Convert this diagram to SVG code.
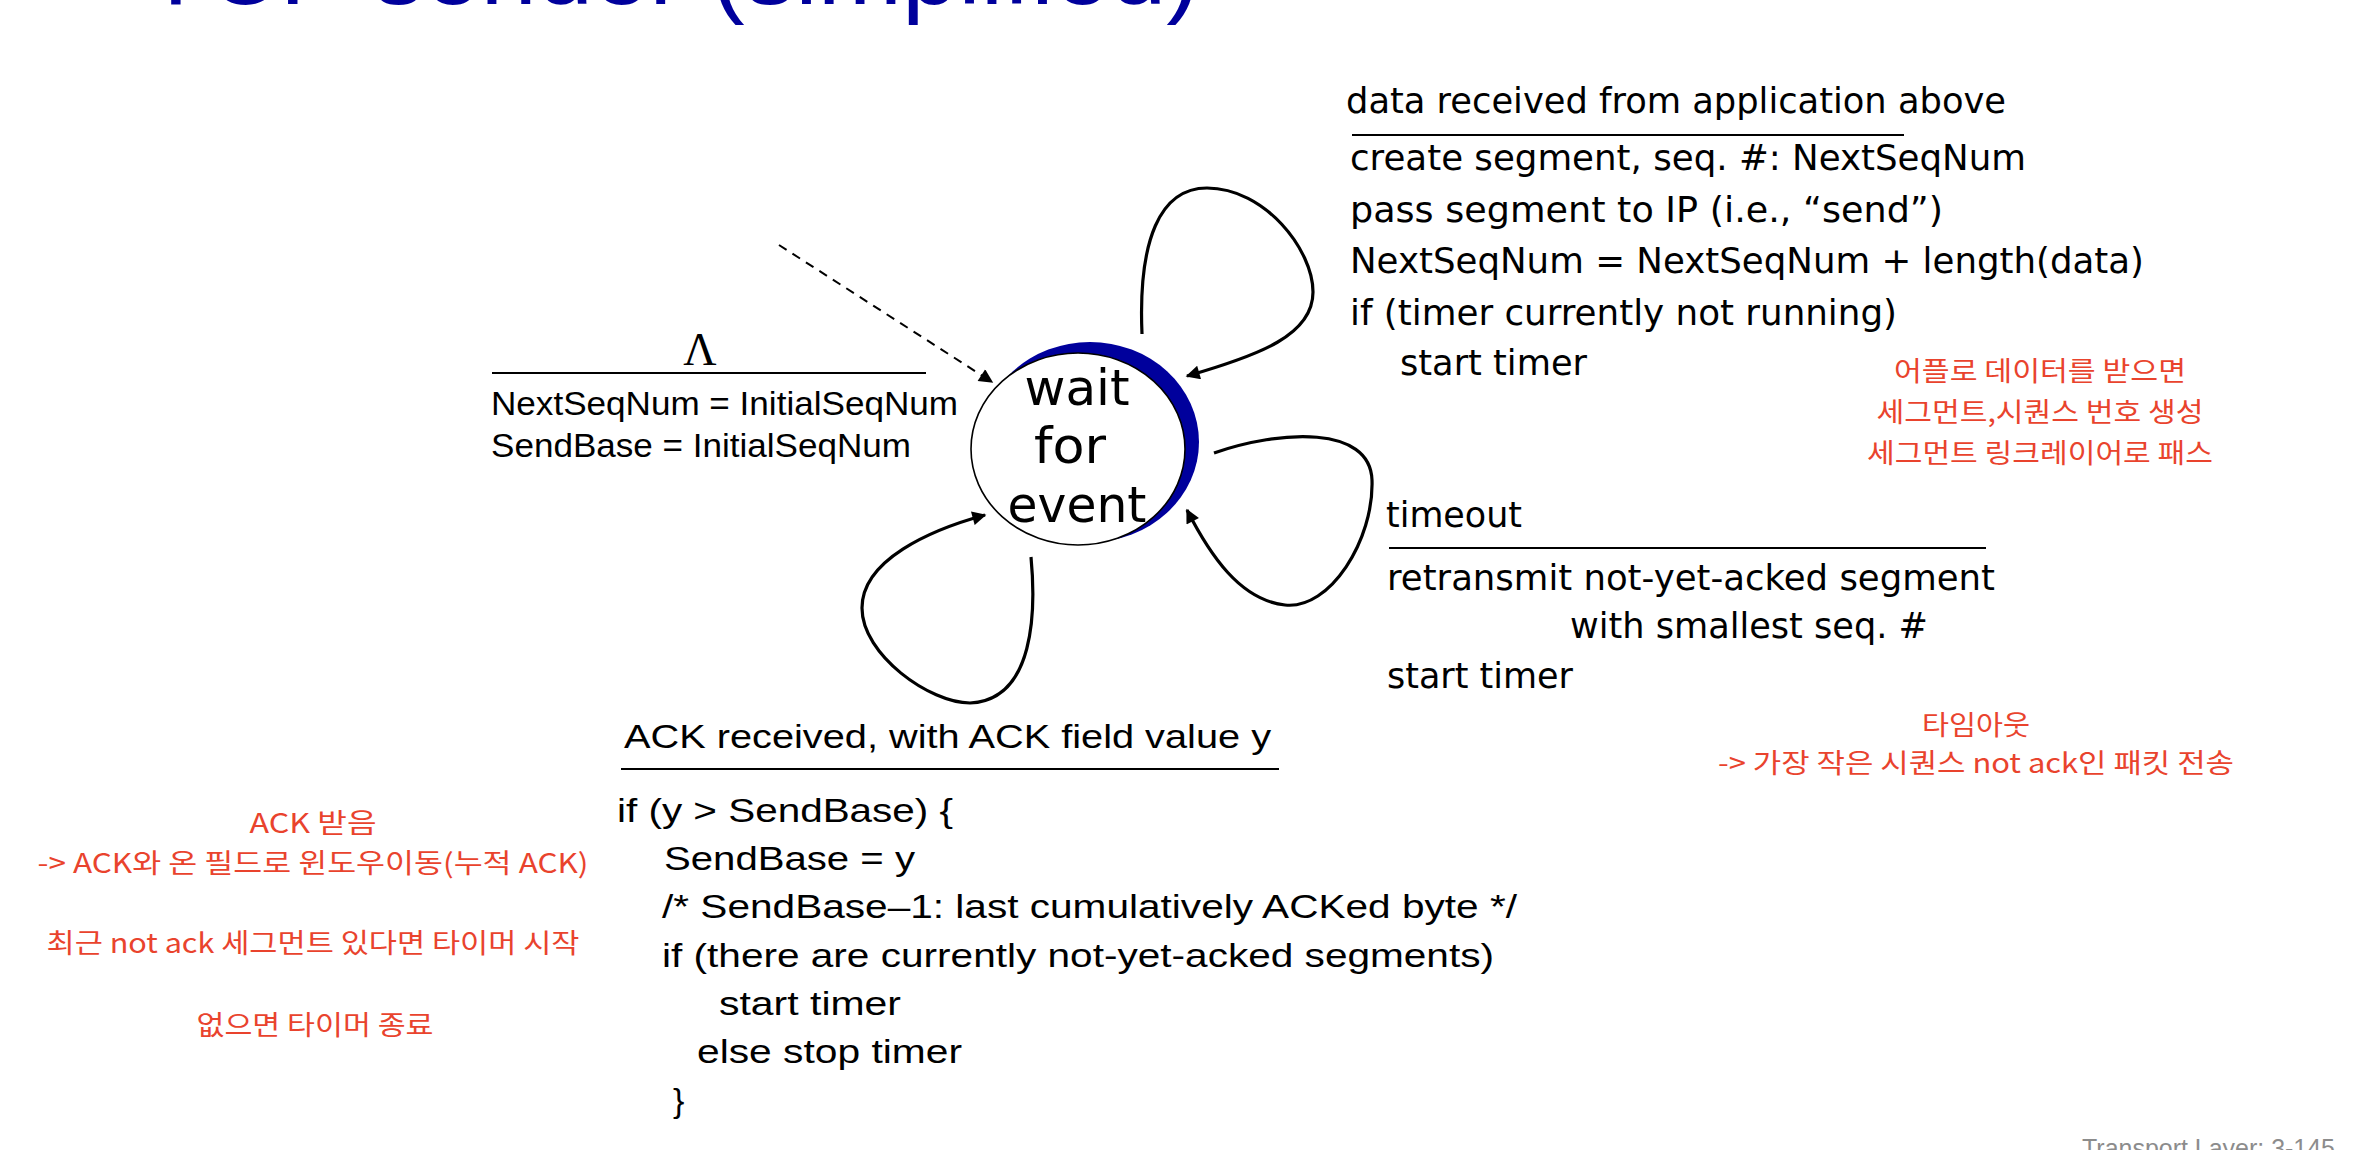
<svg xmlns="http://www.w3.org/2000/svg" width="2378" height="1150" viewBox="0 0 2378 1150">
<style>
.tah{font-family:"DejaVu Sans","Liberation Sans",sans-serif;font-size:36px;fill:#000}
.ari{font-family:"Liberation Sans",Arial,sans-serif;font-size:34px;fill:#000}
.kr{font-family:"Noto Sans CJK KR","Noto Sans",sans-serif;font-size:27px;fill:#e9432d}
.st{font-family:"DejaVu Sans","Liberation Sans",sans-serif;font-size:50px;fill:#000}
.sep{stroke:#000;stroke-width:2}
.loop{fill:none;stroke:#000;stroke-width:3.2}
</style>
<defs>
<marker id="ah" viewBox="0 0 10 10" refX="9" refY="5" markerWidth="17" markerHeight="14" markerUnits="userSpaceOnUse" orient="auto"><path d="M0,0 L10,5 L0,10 z" fill="#000"/></marker>
</defs>
<rect width="2378" height="1150" fill="#fff"/>
<text x="145" y="4" font-family="Liberation Sans,Arial,sans-serif" font-size="100" fill="#00009c" textLength="1055" lengthAdjust="spacingAndGlyphs">TCP sender (simplified)</text>
<g id="state-wait">
<ellipse cx="1090" cy="442" rx="109" ry="100" fill="#00009c"/>
<ellipse cx="1078" cy="449" rx="107" ry="96" fill="#fff" stroke="#000" stroke-width="1.6"/>
<text class="st" x="1077" y="405" text-anchor="middle" textLength="105" lengthAdjust="spacingAndGlyphs">wait</text>
<text class="st" x="1070" y="463" text-anchor="middle" textLength="72" lengthAdjust="spacingAndGlyphs">for</text>
<text class="st" x="1077" y="522" text-anchor="middle" textLength="139" lengthAdjust="spacingAndGlyphs">event</text>
</g>
<g id="connectors">
<line x1="779" y1="245" x2="992" y2="382" stroke="#000" stroke-width="2" stroke-dasharray="9 7" marker-end="url(#ah)"/>
<path class="loop" d="M1142 334 C1138 240 1160 188 1207 188 C1265 188 1313 250 1313 292 C1313 335 1260 355 1187 376" marker-end="url(#ah)"/>
<path class="loop" d="M1214 453 C1280 430 1370 425 1372 480 C1374 540 1330 610 1285 605 C1240 600 1210 555 1187 510" marker-end="url(#ah)"/>
<path class="loop" d="M1031 557 C1036 610 1035 700 970 703 C930 703 862 655 862 608 C862 560 930 530 985 515" marker-end="url(#ah)"/>
</g>
<g id="label-init">
<text x="700" y="365" text-anchor="middle" font-family="Liberation Serif,serif" font-size="46">Λ</text>
<line class="sep" x1="492" y1="373" x2="926" y2="373"/>
<text class="ari" x="491" y="415" textLength="467" lengthAdjust="spacingAndGlyphs">NextSeqNum = InitialSeqNum</text>
<text class="ari" x="491" y="457" textLength="420" lengthAdjust="spacingAndGlyphs">SendBase = InitialSeqNum</text>
</g>
<g id="label-data">
<text class="tah" x="1346" y="113" textLength="660" lengthAdjust="spacingAndGlyphs">data received from application above</text>
<line class="sep" x1="1352" y1="135" x2="1904" y2="135"/>
<text class="tah" x="1350" y="170" textLength="676" lengthAdjust="spacingAndGlyphs">create segment, seq. #: NextSeqNum</text>
<text class="tah" x="1350" y="222" textLength="593" lengthAdjust="spacingAndGlyphs">pass segment to IP (i.e., “send”)</text>
<text class="tah" x="1350" y="273" textLength="794" lengthAdjust="spacingAndGlyphs">NextSeqNum = NextSeqNum + length(data)</text>
<text class="tah" x="1350" y="325" textLength="547" lengthAdjust="spacingAndGlyphs">if (timer currently not running)</text>
<text class="tah" x="1400" y="375" textLength="187" lengthAdjust="spacingAndGlyphs">start timer</text>
</g>
<g id="label-timeout">
<text class="tah" x="1386" y="527" textLength="136" lengthAdjust="spacingAndGlyphs">timeout</text>
<line class="sep" x1="1389" y1="548" x2="1986" y2="548"/>
<text class="tah" x="1387" y="590" textLength="608" lengthAdjust="spacingAndGlyphs">retransmit not-yet-acked segment</text>
<text class="tah" x="1570" y="638" textLength="358" lengthAdjust="spacingAndGlyphs">with smallest seq. #</text>
<text class="tah" x="1387" y="688" textLength="186" lengthAdjust="spacingAndGlyphs">start timer</text>
</g>
<g id="label-ack">
<text class="ari" x="624" y="748" textLength="647" lengthAdjust="spacingAndGlyphs">ACK received, with ACK field value y</text>
<line class="sep" x1="621" y1="769" x2="1279" y2="769"/>
<text class="ari" x="617" y="822" textLength="336" lengthAdjust="spacingAndGlyphs">if (y &gt; SendBase) {</text>
<text class="ari" x="664" y="870" textLength="251" lengthAdjust="spacingAndGlyphs">SendBase = y</text>
<text class="ari" x="662" y="918" textLength="855" lengthAdjust="spacingAndGlyphs">/* SendBase–1: last cumulatively ACKed byte */</text>
<text class="ari" x="662" y="967" textLength="832" lengthAdjust="spacingAndGlyphs">if (there are currently not-yet-acked segments)</text>
<text class="ari" x="719" y="1015" textLength="182" lengthAdjust="spacingAndGlyphs">start timer</text>
<text class="ari" x="697" y="1063" textLength="265" lengthAdjust="spacingAndGlyphs">else stop timer</text>
<text class="ari" x="673" y="1112">}</text>
</g>
<g id="notes">
<text class="kr" x="2040" y="381" text-anchor="middle" textLength="292" lengthAdjust="spacingAndGlyphs">어플로 데이터를 받으면</text>
<text class="kr" x="2040" y="422" text-anchor="middle" textLength="327" lengthAdjust="spacingAndGlyphs">세그먼트,시퀀스 번호 생성</text>
<text class="kr" x="2040" y="463" text-anchor="middle" textLength="346" lengthAdjust="spacingAndGlyphs">세그먼트 링크레이어로 패스</text>
<text class="kr" x="1976" y="735" text-anchor="middle" textLength="108" lengthAdjust="spacingAndGlyphs">타임아웃</text>
<text class="kr" x="1976" y="773" text-anchor="middle" textLength="516" lengthAdjust="spacingAndGlyphs">-&gt; 가장 작은 시퀀스 not ack인 패킷 전송</text>
<text class="kr" x="313" y="833" text-anchor="middle" textLength="127" lengthAdjust="spacingAndGlyphs">ACK 받음</text>
<text class="kr" x="313" y="873" text-anchor="middle" textLength="551" lengthAdjust="spacingAndGlyphs">-&gt; ACK와 온 필드로 윈도우이동(누적 ACK)</text>
<text class="kr" x="313" y="953" text-anchor="middle" textLength="533" lengthAdjust="spacingAndGlyphs">최근 not ack 세그먼트 있다면 타이머 시작</text>
<text class="kr" x="315" y="1035" text-anchor="middle" textLength="237" lengthAdjust="spacingAndGlyphs">없으면 타이머 종료</text>
</g>
<text x="2082" y="1157" font-family="Liberation Sans,Arial,sans-serif" font-size="25" fill="#8c8c8c" textLength="253" lengthAdjust="spacingAndGlyphs">Transport Layer: 3-145</text>
</svg>
